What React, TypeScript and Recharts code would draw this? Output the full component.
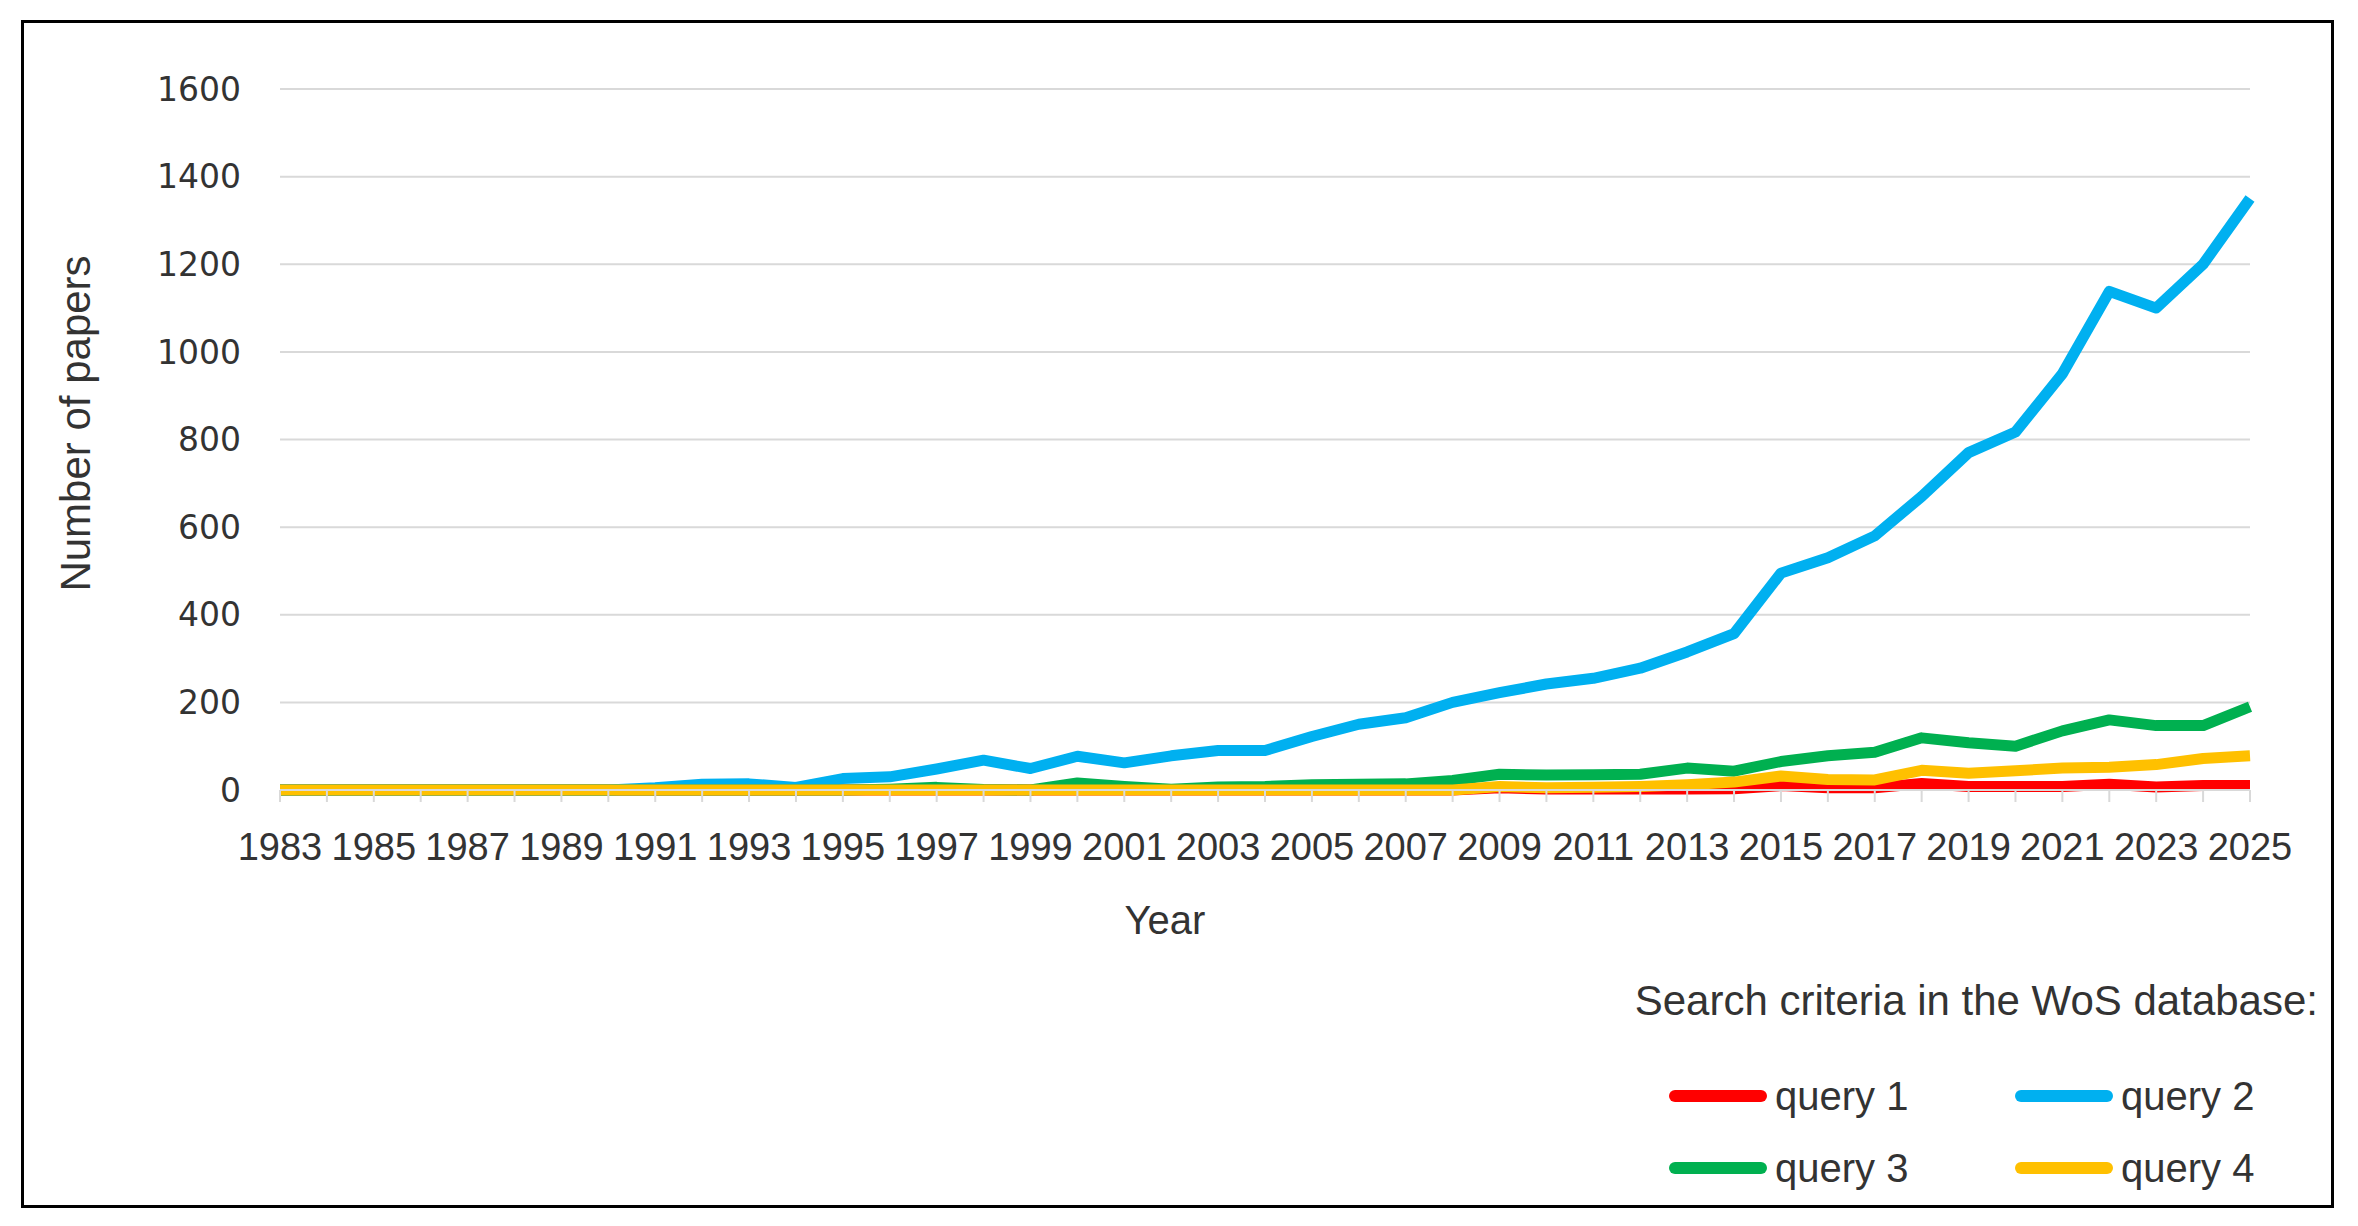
import { LineChart, Line, XAxis, YAxis, CartesianGrid, Legend } from 'recharts';

// Web of Science paper counts per year
const years = [
  1983, 1984, 1985, 1986, 1987, 1988, 1989, 1990, 1991, 1992, 1993, 1994, 1995, 1996,
  1997, 1998, 1999, 2000, 2001, 2002, 2003, 2004, 2005, 2006, 2007, 2008, 2009, 2010,
  2011, 2012, 2013, 2014, 2015, 2016, 2017, 2018, 2019, 2020, 2021, 2022, 2023, 2024, 2025,
];

const query1 = [
  0, 0, 0, 0, 0, 0, 0, 0, 0, 0, 0, 0, 0, 0,
  0, 0, 0, 0, 0, 0, 0, 0, 0, 0, 0, 0, 5, 2,
  2, 2, 2, 3, 10, 5, 5, 15, 8, 8, 8, 13, 7, 10, 10,
];

const query2 = [
  0, 0, 0, 0, 0, 0, 0, 0, 5, 13, 14, 6, 26, 30,
  48, 68, 49, 77, 62, 78, 90, 90, 122, 150, 165, 200, 222, 242,
  255, 278, 315, 357, 495, 530, 580, 670, 770, 817, 950, 1138, 1100, 1200, 1350,
];

const query3 = [
  0, 0, 0, 0, 0, 0, 0, 0, 0, 0, 0, 0, 0, 2,
  6, 1, 0, 16, 8, 2, 7, 8, 12, 13, 14, 22, 36, 34,
  35, 36, 50, 43, 65, 78, 86, 119, 108, 100, 135, 160, 147, 147, 190,
];

const query4 = [
  0, 0, 0, 0, 0, 0, 0, 0, 0, 0, 0, 0, 0, 0,
  0, 0, 0, 0, 0, 0, 0, 0, 0, 0, 0, 0, 8, 5,
  6, 8, 12, 18, 32, 24, 23, 45, 38, 44, 50, 52, 58, 72, 78,
];

const yTicks = [0, 200, 400, 600, 800, 1000, 1200, 1400, 1600];

const seriesNames = ['query 1', 'query 2', 'query 3', 'query 4'];
const seriesColors = ['#FF0000', '#00B0F0', '#00B050', '#FFC000'];

const data = years.map((year, i) => ({
  year,
  q1: query1[i],
  q2: query2[i],
  q3: query3[i],
  q4: query4[i],
}));

const FONT = '"Liberation Sans", Arial, sans-serif';
const TEXT = '#333333';
const GRID = '#D9D9D9';

function YearTick({ x, y, payload }: any) {
  const v = Number(payload.value);
  if (v % 2 === 0) return null;
  return (
    <text x={x} y={y} dy={56} textAnchor="middle" fontFamily={FONT} fontSize={38} fill={TEXT}>
      {v}
    </text>
  );
}

function YearLabel({ viewBox }: any) {
  const vb = viewBox || { x: 256, y: 767, width: 1970, height: 200 };
  return (
    <text
      x={vb.x + vb.width / 2 - 100}
      y={vb.y + 144}
      textAnchor="middle"
      fontFamily={FONT}
      fontSize={40}
      fill={TEXT}
    >
      Year
    </text>
  );
}

function PapersLabel({ viewBox }: any) {
  const vb = viewBox || { x: 0, y: 66, width: 256, height: 701 };
  const cx = vb.x + 51;
  const cy = vb.y + vb.height / 2 - 16;
  return (
    <text
      transform={`translate(${cx},${cy}) rotate(-90)`}
      textAnchor="middle"
      dominantBaseline="central"
      fontFamily={FONT}
      fontSize={42}
      fill={TEXT}
    >
      Number of papers
    </text>
  );
}

function LegendBox({ payload }: any) {
  const items = payload || [];
  return (
    <div style={{ position: 'relative', width: 760, height: 230, fontFamily: FONT, color: TEXT }}>
      <div style={{ position: 'absolute', right: 26, top: 7, fontSize: 42, lineHeight: '42px', whiteSpace: 'nowrap' }}>
        Search criteria in the WoS database:
      </div>
      {items.map((it: any, i: number) => {
        const left = i % 2 === 0 ? 85 : 431;
        const cy = i < 2 ? 123 : 195;
        return (
          <div
            key={it.value}
            style={{ position: 'absolute', left, top: cy - 20, height: 40, display: 'flex', alignItems: 'center', whiteSpace: 'nowrap' }}
          >
            <span style={{ display: 'inline-block', width: 98, height: 12, borderRadius: 6, background: it.color }} />
            <span style={{ marginLeft: 8, fontSize: 40, lineHeight: '40px' }}>{it.value}</span>
          </div>
        );
      })}
    </div>
  );
}

export default function App() {
  return (
    <div style={{ paddingTop: 12, paddingLeft: 13 }}>
      <div style={{ width: 2307, height: 1182, border: '3px solid #000', background: '#fff' }}>
        <LineChart width={2307} height={1182} data={data} margin={{ top: 66, right: 81, left: 0, bottom: 215 }}>
          <CartesianGrid vertical={false} stroke={GRID} strokeWidth={2} />
          <XAxis
            dataKey="year"
            interval={0}
            height={200}
            stroke={GRID}
            strokeWidth={2}
            tickSize={12}
            tickMargin={2}
            tick={<YearTick />}
            label={<YearLabel />}
          />
          <YAxis
            width={256}
            domain={[0, 1600]}
            ticks={yTicks}
            axisLine={false}
            tickLine={false}
            tickSize={0}
            tickMargin={39}
            tick={{ fontFamily: '"DejaVu Sans", Verdana, sans-serif', fontSize: 33, fill: TEXT }}
            label={<PapersLabel />}
          />
          <Line type="linear" dataKey="q1" name={seriesNames[0]} stroke={seriesColors[0]} strokeWidth={11} dot={false} activeDot={false} strokeLinejoin="round" isAnimationActive={false} />
          <Line type="linear" dataKey="q2" name={seriesNames[1]} stroke={seriesColors[1]} strokeWidth={11} dot={false} activeDot={false} strokeLinejoin="round" isAnimationActive={false} />
          <Line type="linear" dataKey="q3" name={seriesNames[2]} stroke={seriesColors[2]} strokeWidth={11} dot={false} activeDot={false} strokeLinejoin="round" isAnimationActive={false} />
          <Line type="linear" dataKey="q4" name={seriesNames[3]} stroke={seriesColors[3]} strokeWidth={11} dot={false} activeDot={false} strokeLinejoin="round" isAnimationActive={false} />
          <Legend
            layout="vertical"
            align="center"
            verticalAlign="middle"
            content={<LegendBox />}
            wrapperStyle={{ position: 'absolute', left: 1560, top: 950, width: 760, height: 230 }}
          />
        </LineChart>
      </div>
    </div>
  );
}
